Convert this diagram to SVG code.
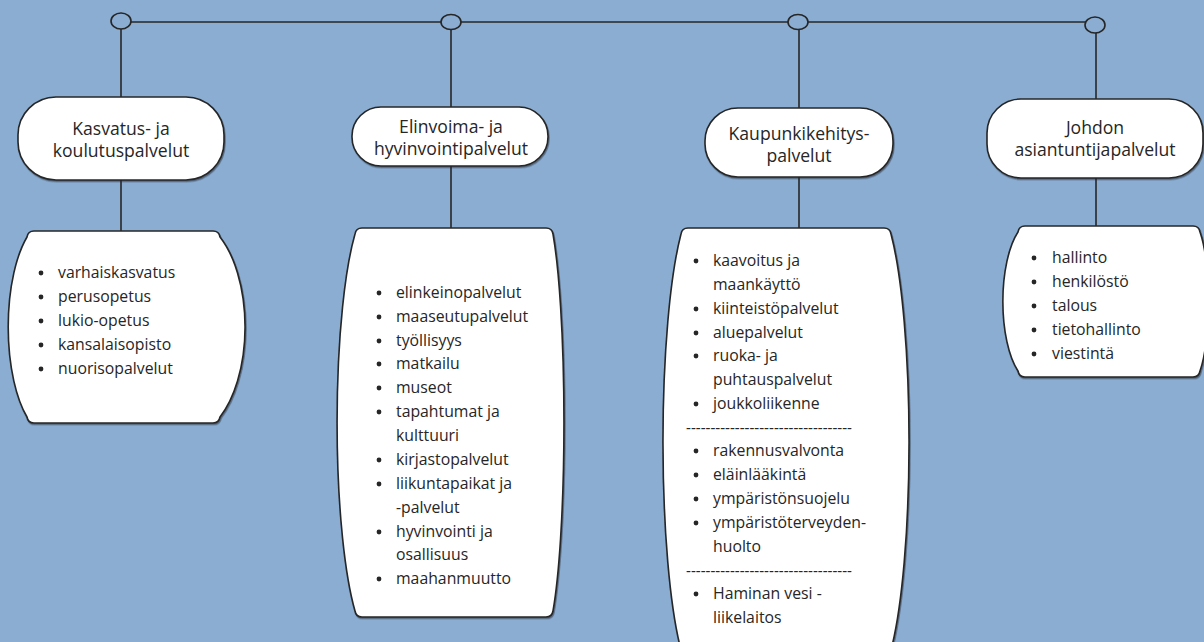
<svg xmlns="http://www.w3.org/2000/svg" width="1204" height="642" viewBox="0 0 1204 642">
<style>
.bg{fill:#8badd2}
.ln{stroke:#262626;stroke-width:1.6;fill:none}
.jn{stroke:#262626;stroke-width:1.6;fill:#8badd2}
.hd{fill:#fff;stroke:#262626;stroke-width:1.6;filter:url(#sh)}
.bx{fill:#fff;stroke:#262626;stroke-width:1.6;filter:url(#sh)}
.ht{font-family:"Open Sans","Noto Sans","Liberation Sans",sans-serif;font-size:17.6px;fill:#262626;text-anchor:middle}
.lt{font-family:"Open Sans","Noto Sans","Liberation Sans",sans-serif;font-size:15.8px;fill:#262626}
.bd{fill:#262626}
</style>
<defs>
  <filter id="sh" x="-5%" y="-5%" width="110%" height="112%">
    <feDropShadow dx="0.8" dy="1.4" stdDeviation="0.7" flood-color="#1e2a38" flood-opacity="0.55"/>
  </filter>
</defs>
<rect class="bg" x="0" y="0" width="1204" height="642"/>

<g id="connectors">
  <line class="ln" x1="130" y1="22" x2="1086" y2="22"/>
  <line class="ln" x1="121" y1="29" x2="121" y2="97"/>
  <line class="ln" x1="121" y1="180" x2="121" y2="231"/>
  <line class="ln" x1="451" y1="30" x2="451" y2="107"/>
  <line class="ln" x1="451" y1="166" x2="451" y2="228"/>
  <line class="ln" x1="799" y1="30" x2="799" y2="108"/>
  <line class="ln" x1="799" y1="177" x2="799" y2="228"/>
  <line class="ln" x1="1096" y1="33" x2="1096" y2="99"/>
  <line class="ln" x1="1096" y1="178" x2="1096" y2="226"/>
  <ellipse class="jn" cx="121" cy="21" rx="10" ry="8"/>
  <ellipse class="jn" cx="451" cy="22" rx="10" ry="7.5"/>
  <ellipse class="jn" cx="798" cy="22" rx="10" ry="7.5"/>
  <ellipse class="jn" cx="1095" cy="25" rx="10" ry="8"/>
</g>

<g id="h1">
  <rect class="hd" x="18" y="97" width="206" height="83" rx="38" ry="38"/>
  <text class="ht" x="121" y="135">Kasvatus- ja</text>
  <text class="ht" x="121" y="157">koulutuspalvelut</text>
</g>
<g id="h2">
  <rect class="hd" x="352" y="107" width="196" height="59" rx="29" ry="29"/>
  <text class="ht" x="451" y="133">Elinvoima- ja</text>
  <text class="ht" x="451" y="155">hyvinvointipalvelut</text>
</g>
<g id="h3">
  <rect class="hd" x="705" y="108" width="188" height="69" rx="33" ry="33"/>
  <text class="ht" x="799" y="140">Kaupunkikehitys-</text>
  <text class="ht" x="799" y="162">palvelut</text>
</g>
<g id="h4">
  <rect class="hd" x="987" y="99" width="216" height="79" rx="34" ry="34"/>
  <text class="ht" x="1095" y="134">Johdon</text>
  <text class="ht" x="1095" y="156">asiantuntijapalvelut</text>
</g>

<g id="l1">
  <path class="bx" d="M34,231 H213 Q219,231 220,237 A56,108 0 0 1 220,417 Q219,423 213,423 H34 Q28,423 27,417 A42,108 0 0 1 27,237 Q28,231 34,231 Z"/>
  <circle class="bd" cx="41" cy="273" r="2.4"/><text class="lt" x="58" y="278">varhaiskasvatus</text>
  <circle class="bd" cx="41" cy="297" r="2.4"/><text class="lt" x="58" y="302">perusopetus</text>
  <circle class="bd" cx="41" cy="321" r="2.4"/><text class="lt" x="58" y="326">lukio-opetus</text>
  <circle class="bd" cx="41" cy="345" r="2.4"/><text class="lt" x="58" y="350">kansalaisopisto</text>
  <circle class="bd" cx="41" cy="369" r="2.4"/><text class="lt" x="58" y="374">nuorisopalvelut</text>
</g>

<g id="l2">
  <path class="bx" d="M362,228 H546 Q552,228 553,234 A22,218 0 0 1 553,611 Q552,617 546,617 H362 Q356,617 355,611 A36,218 0 0 1 355,234 Q356,228 362,228 Z"/>
  <circle class="bd" cx="379" cy="293" r="2.4"/><text class="lt" x="396" y="298">elinkeinopalvelut</text>
  <circle class="bd" cx="379" cy="317" r="2.4"/><text class="lt" x="396" y="322">maaseutupalvelut</text>
  <circle class="bd" cx="379" cy="341" r="2.4"/><text class="lt" x="396" y="346">työllisyys</text>
  <circle class="bd" cx="379" cy="364" r="2.4"/><text class="lt" x="396" y="369">matkailu</text>
  <circle class="bd" cx="379" cy="388" r="2.4"/><text class="lt" x="396" y="393">museot</text>
  <circle class="bd" cx="379" cy="412" r="2.4"/><text class="lt" x="396" y="417">tapahtumat ja</text>
  <text class="lt" x="396" y="441">kulttuuri</text>
  <circle class="bd" cx="379" cy="460" r="2.4"/><text class="lt" x="396" y="465">kirjastopalvelut</text>
  <circle class="bd" cx="379" cy="484" r="2.4"/><text class="lt" x="396" y="489">liikuntapaikat ja</text>
  <text class="lt" x="396" y="513">-palvelut</text>
  <circle class="bd" cx="379" cy="532" r="2.4"/><text class="lt" x="396" y="537">hyvinvointi ja</text>
  <text class="lt" x="396" y="560">osallisuus</text>
  <circle class="bd" cx="379" cy="579" r="2.4"/><text class="lt" x="396" y="584">maahanmuutto</text>
</g>

<g id="l3">
  <path class="bx" d="M688,228 H884 Q890,228 891,234 A36,240 0 0 1 891,650 Q890,656 884,656 H688 Q682,656 681,650 A36,240 0 0 1 681,234 Q682,228 688,228 Z"/>
  <circle class="bd" cx="696" cy="261" r="2.4"/><text class="lt" x="713" y="266">kaavoitus ja</text>
  <text class="lt" x="713" y="290">maankäyttö</text>
  <circle class="bd" cx="696" cy="309" r="2.4"/><text class="lt" x="713" y="314">kiinteistöpalvelut</text>
  <circle class="bd" cx="696" cy="333" r="2.4"/><text class="lt" x="713" y="338">aluepalvelut</text>
  <circle class="bd" cx="696" cy="356" r="2.4"/><text class="lt" x="713" y="361">ruoka- ja</text>
  <text class="lt" x="713" y="385">puhtauspalvelut</text>
  <circle class="bd" cx="696" cy="404" r="2.4"/><text class="lt" x="713" y="409">joukkoliikenne</text>
  <text class="lt" x="686" y="433" textLength="166" lengthAdjust="spacingAndGlyphs">----------------------------------</text>
  <circle class="bd" cx="696" cy="451" r="2.4"/><text class="lt" x="713" y="456">rakennusvalvonta</text>
  <circle class="bd" cx="696" cy="475" r="2.4"/><text class="lt" x="713" y="480">eläinlääkintä</text>
  <circle class="bd" cx="696" cy="499" r="2.4"/><text class="lt" x="713" y="504">ympäristönsuojelu</text>
  <circle class="bd" cx="696" cy="523" r="2.4"/><text class="lt" x="713" y="528">ympäristöterveyden-</text>
  <text class="lt" x="713" y="552">huolto</text>
  <text class="lt" x="686" y="576" textLength="166" lengthAdjust="spacingAndGlyphs">----------------------------------</text>
  <circle class="bd" cx="696" cy="594" r="2.4"/><text class="lt" x="713" y="599">Haminan vesi -</text>
  <text class="lt" x="713" y="623">liikelaitos</text>
</g>

<g id="l4">
  <path class="bx" d="M1025,226 H1193 Q1199,226 1200,232 A16,80 0 0 1 1200,371 Q1199,377 1193,377 H1025 Q1019,377 1018,371 A30,80 0 0 1 1018,232 Q1019,226 1025,226 Z"/>
  <circle class="bd" cx="1034" cy="258" r="2.4"/><text class="lt" x="1052" y="263">hallinto</text>
  <circle class="bd" cx="1034" cy="282" r="2.4"/><text class="lt" x="1052" y="287">henkilöstö</text>
  <circle class="bd" cx="1034" cy="306" r="2.4"/><text class="lt" x="1052" y="311">talous</text>
  <circle class="bd" cx="1034" cy="330" r="2.4"/><text class="lt" x="1052" y="335">tietohallinto</text>
  <circle class="bd" cx="1034" cy="354" r="2.4"/><text class="lt" x="1052" y="359">viestintä</text>
</g>
</svg>
